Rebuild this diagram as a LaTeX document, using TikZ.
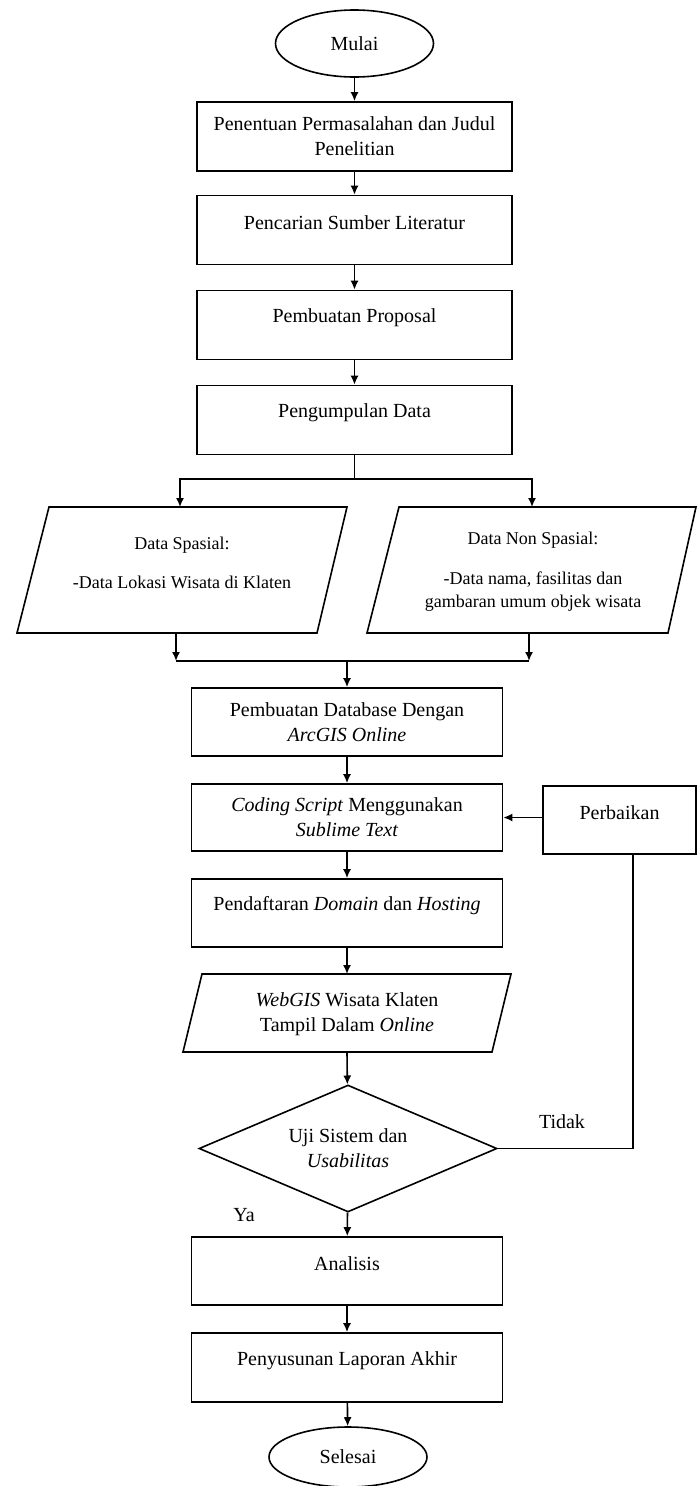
\documentclass[tikz,border=0pt]{standalone}
\usepackage{fontspec}
\setmainfont{Liberation Serif}
\usetikzlibrary{arrows.meta,shapes.geometric}
\newcommand\liftt[1]{\raisebox{7pt}[\height][\depth]{#1}}
\begin{document}
\begin{tikzpicture}[x=1pt,y=-1pt,
  line width=1.6pt,
  font=\fontsize{20}{25}\selectfont,
  topbox/.style={draw, rectangle, minimum width=315pt, minimum height=69pt, inner sep=0pt, align=center},
  lowbox/.style={draw, rectangle, minimum width=311pt, minimum height=68pt, inner sep=0pt, align=center},
  term/.style={draw, ellipse, minimum width=158pt, inner sep=0pt},
  ptxt/.style={font=\fontsize{18}{23}\selectfont, align=center, inner sep=0pt},
  lbl/.style={inner sep=0pt},
  arr/.style={-{Latex[length=9pt,width=8pt]}},
  ]
\useasboundingbox (0,0) rectangle (697,1486);

% top column
\node[term, minimum height=67pt] (start) at (354.5,43.5) {Mulai};
\node[topbox] (b1) at (354.5,136.5) {Penentuan Permasalahan dan Judul\\Penelitian};
\node[topbox] (b2) at (354.5,230) {\liftt{Pencarian Sumber Literatur}};
\node[topbox] (b3) at (354.5,325) {\liftt{Pembuatan Proposal}};
\node[topbox] (b4) at (354.5,420) {\liftt{Pengumpulan Data}};

\draw[arr] (start) -- (b1);
\draw[arr] (b1) -- (b2);
\draw[arr] (b2) -- (b3);
\draw[arr] (b3) -- (b4);

% data parallelograms
\draw (49,507) -- (347,507) -- (317,633) -- (17,633) -- cycle;
\draw (399,507) -- (696,507) -- (668,633) -- (367,633) -- cycle;
\coordinate (pLt) at (180,507);
\coordinate (pRt) at (532,507);
\coordinate (pLb) at (176,633);
\coordinate (pRb) at (529,633);
\node[ptxt] (tL) at (182,562.5) {Data Spasial:\\[16pt]-Data Lokasi Wisata di Klaten};
\node[ptxt] (tR) at (533,571.5) {Data Non Spasial:\\[17pt]-Data nama, fasilitas dan\\gambaran umum objek wisata};

\coordinate (fk) at (354.5,479);
\draw (b4.south) -- (fk);
\draw[arr] (fk) -| (pLt);
\draw[arr] (fk) -| (pRt);

\coordinate (jL) at (176,661);
\coordinate (jR) at (529,661);
\coordinate (jn) at (347,661);
\draw[arr] (pLb) -- (jL);
\draw[arr] (pRb) -- (jR);
\draw (jL) -- (jR);

% lower column
\node[lowbox] (b5) at (347,722) {Pembuatan Database Dengan\\\textit{ArcGIS Online}};
\node[lowbox, minimum height=67pt] (b6) at (347,817.5) {\textit{Coding Script} Menggunakan\\\textit{Sublime Text}};
\node[draw, rectangle, minimum width=153pt, minimum height=68pt, inner sep=0pt] (perb) at (619.5,820) {\liftt{Perbaikan}};
\node[lowbox] (b7) at (347,913) {\liftt{Pendaftaran \textit{Domain} dan \textit{Hosting}}};

\draw (202,974) -- (511,974) -- (492,1052) -- (183,1052) -- cycle;
\coordinate (wT) at (347,974);
\coordinate (wB) at (347,1052);
\node[lbl, align=center] (tW) at (347,1014) {\textit{WebGIS} Wisata Klaten\\Tampil Dalam \textit{Online}};

\node[draw, diamond, aspect=2.35, minimum width=298pt, minimum height=127pt, inner sep=0pt, align=center] (dia) at (348,1148.5) {Uji Sistem dan\\\textit{Usabilitas}};

\node[lowbox] (b8) at (347,1271) {\liftt{Analisis}};
\node[lowbox, minimum height=69pt] (b9) at (347,1367.5) {\liftt{Penyusunan Laporan Akhir}};
\node[term, minimum height=60pt] (stop) at (348,1457) {Selesai};

\draw[arr] (jn) -- (b5);
\draw[arr] (b5) -- (b6);
\draw[arr] (b6) -- (b7);
\draw[arr] (b7) -- (wT);
\draw[arr] (wB) -- (dia);
\draw[arr] (dia) -- (b8);
\draw[arr] (b8) -- (b9);
\draw[arr] (b9) -- (stop);

% loop back
\coordinate (lp) at (633,1148.5);
\draw (dia.east) -- (lp) -- (lp |- perb.south);
\draw[arr] (perb.west |- b6.east) -- (b6.east);

\node[lbl] (tidak) at (562,1122) {Tidak};
\node[lbl] (ya) at (244,1215) {Ya};
\end{tikzpicture}
\end{document}
